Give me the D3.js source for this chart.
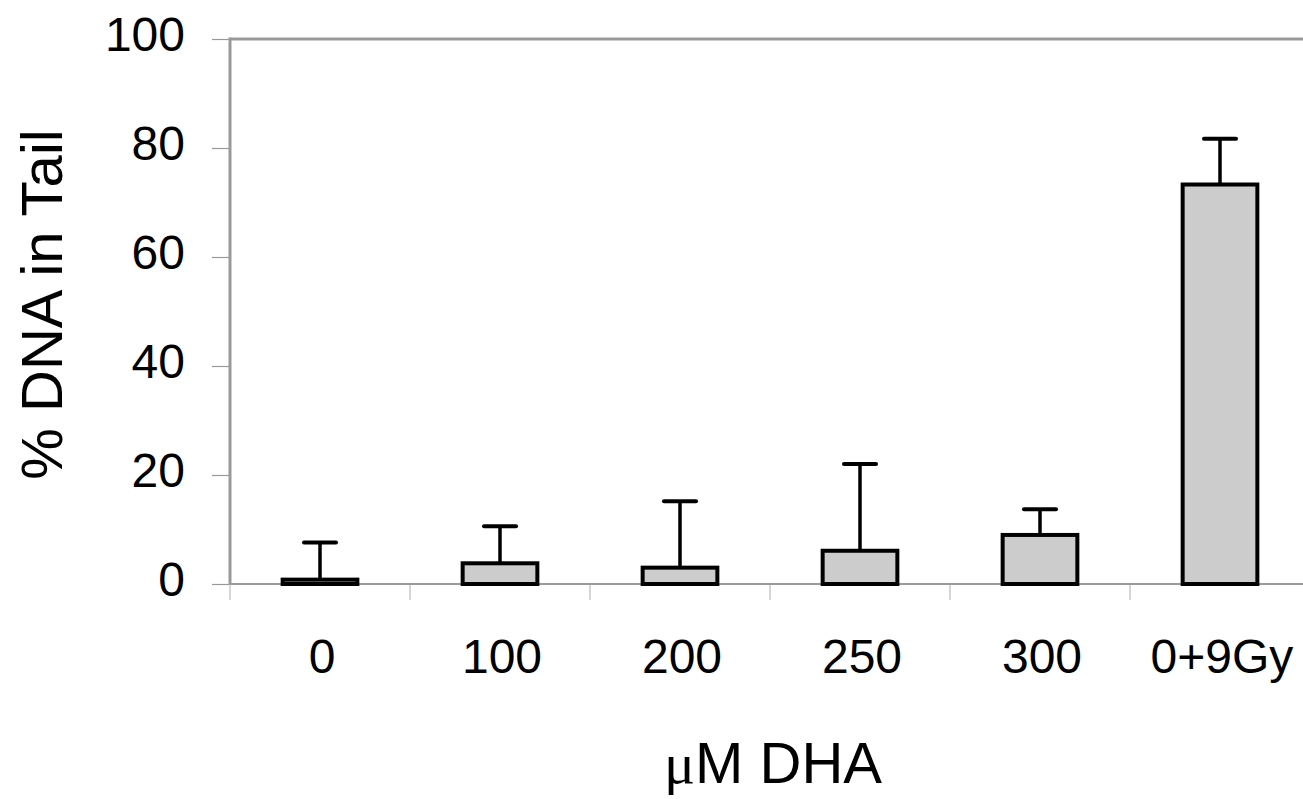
<!DOCTYPE html>
<html>
<head>
<meta charset="utf-8">
<script src="https://cdn.jsdelivr.net/npm/d3@7"></script>
<style>
  body { margin: 0; background: #fff; }
  svg { display: block; font-family: 'Liberation Sans', Arial, sans-serif; }
</style>
</head>
<body>
<svg id="svg" width="1303" height="799"></svg>
<script>
const width = 1303;
const height = 799;
const axisColor = '#999';
const barFill = '#cccccc';

const categories = ['0', '100', '200', '250', '300', '0+9Gy'];
const values = [0.8, 3.8, 3.0, 6.1, 9.0, 73.3];
const errors = [6.8, 6.8, 12.2, 15.9, 4.7, 8.4];
const yTicks = [0, 20, 40, 60, 80, 100];

const plot = {
	left: 230,
	right: 1310,
	top: 39,
	bottom: 584
};

const svg = d3.select('#svg');

const xScale = d3.scaleBand()
	.domain(categories)
	.range([plot.left, plot.right])
	.paddingInner(0)
	.paddingOuter(0);

const yScale = d3.scaleLinear()
	.domain([0, 100])
	.range([plot.bottom, plot.top]);

drawAxes();
drawBars();
drawTitles();

function drawAxes() {
	// y axis
	const yAxis = d3.axisLeft(yScale)
		.tickValues(yTicks)
		.tickSize(18)
		.tickPadding(27);

	const gy = svg.append('g')
		.attr('class', 'y-axis')
		.attr('transform', 'translate(' + plot.left + ',0)')
		.call(yAxis);
	gy.select('.domain').remove();
	gy.selectAll('.tick line')
		.attr('stroke', axisColor)
		.attr('stroke-width', 1.2);
	gy.selectAll('.tick text')
		.attr('dy', '0.24em')
		.attr('fill', '#000')
		.style('font-size', '48px');

	// x axis ticks at band edges
	const edges = categories.map(c => xScale(c));
	svg.append('g')
		.attr('class', 'x-ticks')
		.selectAll('line')
		.data(edges)
		.join('line')
		.attr('x1', d => d)
		.attr('x2', d => d)
		.attr('y1', plot.bottom)
		.attr('y2', plot.bottom + 16)
		.attr('stroke', '#bbb')
		.attr('stroke-width', 1.2);

	svg.append('g')
		.attr('class', 'x-labels')
		.selectAll('text')
		.data(categories)
		.join('text')
		.attr('x', d => xScale(d) + xScale.bandwidth() / 2 + 2)
		.attr('y', plot.bottom + 89)
		.attr('text-anchor', 'middle')
		.style('font-size', '48px')
		.text(d => d);

	// frame lines: left, top, baseline
	svg.append('line')
		.attr('x1', plot.left).attr('x2', plot.left)
		.attr('y1', plot.top - 1.5).attr('y2', plot.bottom)
		.attr('stroke', axisColor).attr('stroke-width', 3);
	svg.append('line')
		.attr('x1', plot.left).attr('x2', width)
		.attr('y1', plot.top).attr('y2', plot.top)
		.attr('stroke', axisColor).attr('stroke-width', 3);
	svg.append('line')
		.attr('x1', plot.left).attr('x2', width)
		.attr('y1', plot.bottom).attr('y2', plot.bottom)
		.attr('stroke', axisColor).attr('stroke-width', 2);
}

function drawBars() {
	const barW = xScale.bandwidth() * 0.415;
	const capW = 32;
	const rows = categories.map((c, i) => ({ c, v: values[i], e: errors[i] }));
	const cx = d => xScale(d.c) + xScale.bandwidth() / 2;

	const g = svg.append('g').attr('class', 'bars');

	g.selectAll('line.err')
		.data(rows)
		.join('line')
		.attr('class', 'err')
		.attr('x1', cx)
		.attr('x2', cx)
		.attr('y1', d => yScale(d.v))
		.attr('y2', d => yScale(d.v + d.e))
		.attr('stroke', '#000')
		.attr('stroke-width', 3.5);

	g.selectAll('line.cap')
		.data(rows)
		.join('line')
		.attr('class', 'cap')
		.attr('x1', d => cx(d) - capW / 2)
		.attr('x2', d => cx(d) + capW / 2)
		.attr('y1', d => yScale(d.v + d.e))
		.attr('y2', d => yScale(d.v + d.e))
		.attr('stroke', '#000')
		.attr('stroke-width', 4)
		.attr('stroke-linecap', 'round');

	g.selectAll('rect')
		.data(rows)
		.join('rect')
		.attr('x', d => cx(d) - barW / 2)
		.attr('y', d => yScale(d.v))
		.attr('width', barW)
		.attr('height', d => yScale(0) - yScale(d.v))
		.attr('fill', barFill)
		.attr('stroke', '#000')
		.attr('stroke-width', 4);
}

function drawTitles() {
	const xt = svg.append('text')
		.attr('x', (plot.left + plot.right) / 2 + 3)
		.attr('y', 783)
		.attr('text-anchor', 'middle')
		.style('font-size', '58px');
	xt.append('tspan')
		.style('font-family', "'Liberation Serif', 'Times New Roman', serif")
		.text('\u03bc');
	xt.append('tspan').text('M DHA');

	svg.append('text')
		.attr('transform', 'translate(62,' + ((plot.top + plot.bottom) / 2 - 7) + ') rotate(-90)')
		.attr('text-anchor', 'middle')
		.style('font-size', '58px')
		.text('% DNA in Tail');
}
</script>
</body>
</html>
